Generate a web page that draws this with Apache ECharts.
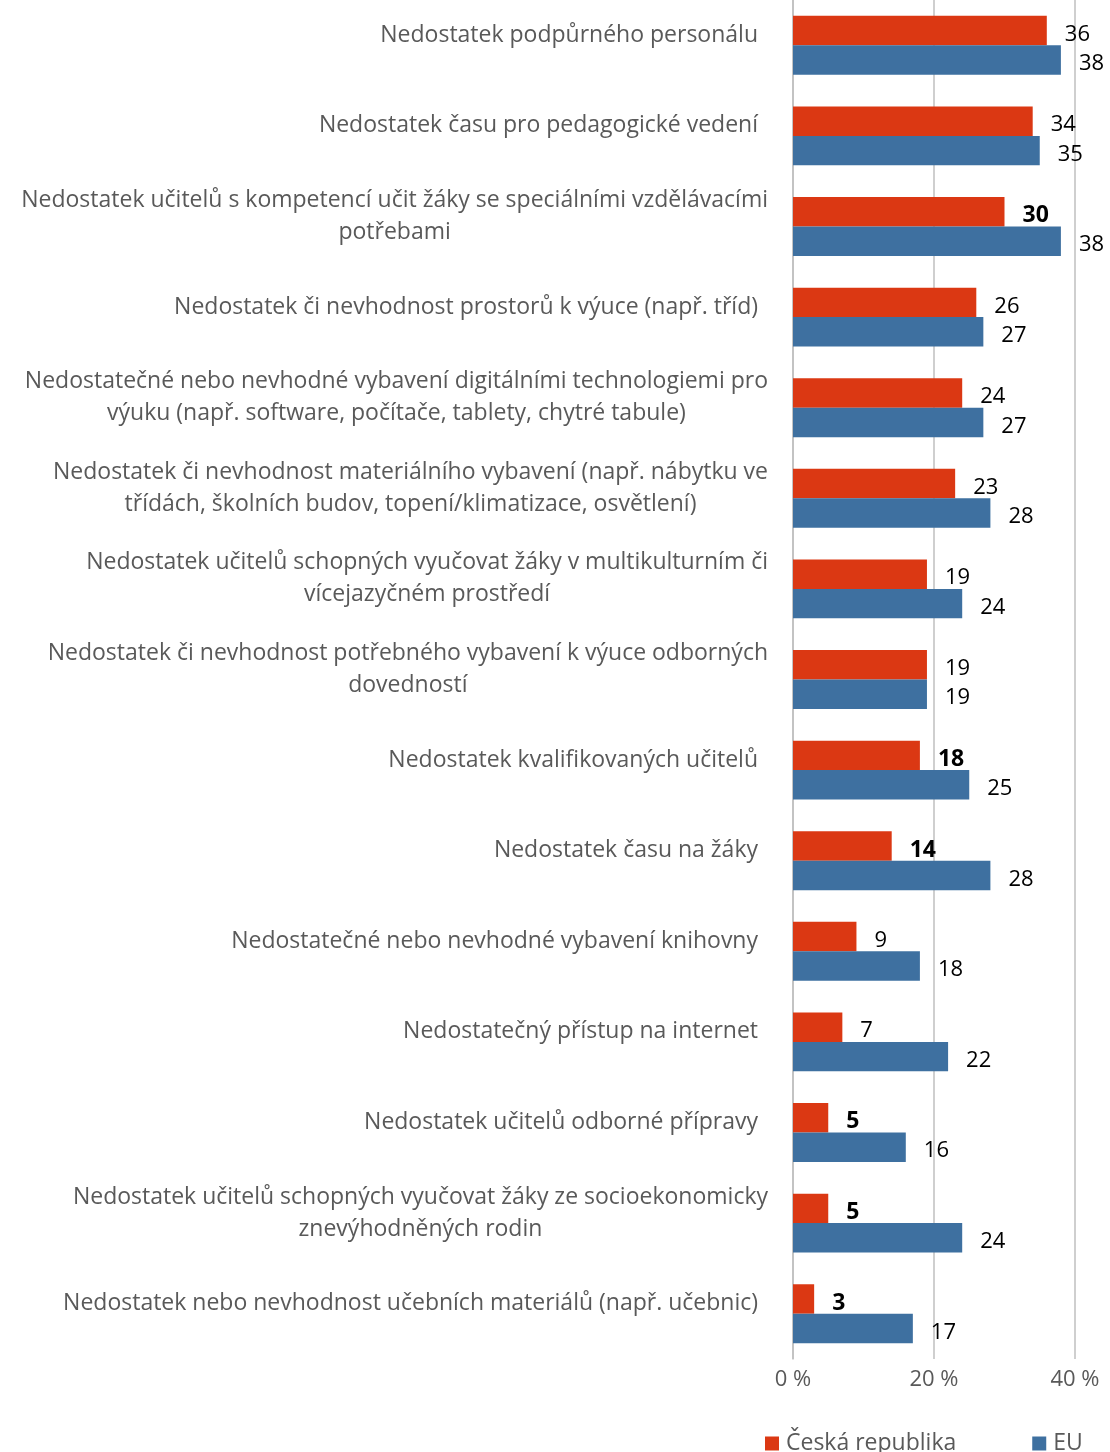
<!DOCTYPE html>
<html>
<head>
<meta charset="utf-8">
<script src="https://cdn.jsdelivr.net/npm/echarts@6/dist/echarts.min.js"></script>
<style>
  html, body { margin: 0; padding: 0; background: #fff; }
  #chart { width: 1110px; height: 1452px; }
</style>
</head>
<body>
<div id="chart"></div>
<script>
// kategorie (shora dolů)
var categories = [
  'Nedostatek podpůrného personálu',
  'Nedostatek času pro pedagogické vedení',
  'Nedostatek učitelů s kompetencí učit žáky se speciálními vzdělávacími\npotřebami',
  'Nedostatek či nevhodnost prostorů k výuce (např. tříd)',
  'Nedostatečné nebo nevhodné vybavení digitálními technologiemi pro\nvýuku (např. software, počítače, tablety, chytré tabule)',
  'Nedostatek či nevhodnost materiálního vybavení (např. nábytku ve\ntřídách, školních budov, topení/klimatizace, osvětlení)',
  'Nedostatek učitelů schopných vyučovat žáky v multikulturním či\nvícejazyčném prostředí',
  'Nedostatek či nevhodnost potřebného vybavení k výuce odborných\ndovedností',
  'Nedostatek kvalifikovaných učitelů',
  'Nedostatek času na žáky',
  'Nedostatečné nebo nevhodné vybavení knihovny',
  'Nedostatečný přístup na internet',
  'Nedostatek učitelů odborné přípravy',
  'Nedostatek učitelů schopných vyučovat žáky ze socioekonomicky\nznevýhodněných rodin',
  'Nedostatek nebo nevhodnost učebních materiálů (např. učebnic)'
];
var czValues = [36, 34, 30, 26, 24, 23, 19, 19, 18, 14, 9, 7, 5, 5, 3];
var euValues = [38, 35, 38, 27, 27, 28, 24, 19, 25, 28, 18, 22, 16, 24, 17];
// statisticky významný rozdíl -> tučně
var czBold = [false, false, true, false, false, false, false, false, true, true, false, false, true, true, true];
var xTicks = [0, 20, 40];

var FONT = 'Open Sans';
var myChart = echarts.init(document.getElementById('chart'));

var czData = czValues.map(function (v, i) {
  return czBold[i] ? { value: v, label: { fontWeight: 'bold', fontSize: 23 } } : v;
});

var valueLabel = { show: true, position: 'right', distance: 18, offset: [0, 4], fontSize: 22, color: '#000', fontFamily: FONT };

var option = {
  animation: false,
  textStyle: { fontFamily: FONT },
  grid: { left: 793, right: 35, top: 0, bottom: 93, outerBoundsMode: 'none' },
  legend: {
    left: 760, top: 1427,
    itemWidth: 14, itemHeight: 14, itemGap: 76,
    icon: 'rect',
    textStyle: { fontFamily: FONT, fontSize: 23, color: '#595959', padding: [0, 0, 0, 2] },
    data: ['Česká republika', 'EU']
  },
  xAxis: {
    type: 'value', min: xTicks[0], max: xTicks[xTicks.length - 1], interval: 20,
    axisLine: { show: false }, axisTick: { show: false },
    splitLine: { lineStyle: { color: '#BFBFBF', width: 1.5 } },
    axisLabel: { fontSize: 22, color: '#595959', margin: 10, formatter: '{value} %' }
  },
  yAxis: {
    type: 'category', inverse: true, data: categories,
    axisLine: { lineStyle: { color: '#BFBFBF', width: 1.5 } },
    axisTick: { show: false },
    axisLabel: {
      margin: 25,
      padding: [0, 0, 20, 0],
      formatter: function (v) {
        var lines = v.split('\n');
        if (lines.length === 1) return '{s|' + v + '}';
        return lines.map(function (l) { return '{c|' + l + '}'; }).join('\n');
      },
      rich: {
        c: { fontFamily: FONT, fontSize: 23, color: '#595959', lineHeight: 32, align: 'center' },
        s: { fontFamily: FONT, fontSize: 23, color: '#595959', lineHeight: 32, padding: [0, 10, 0, 0] }
      }
    }
  },
  series: [
    {
      name: 'Česká republika', type: 'bar', data: czData,
      barCategoryGap: '35%', barGap: '0%',
      itemStyle: { color: '#DB3813' },
      label: valueLabel
    },
    {
      name: 'EU', type: 'bar', data: euValues,
      barCategoryGap: '35%', barGap: '0%',
      itemStyle: { color: '#3E70A0' },
      label: valueLabel
    }
  ]
};
myChart.setOption(option);
</script>
</body>
</html>
